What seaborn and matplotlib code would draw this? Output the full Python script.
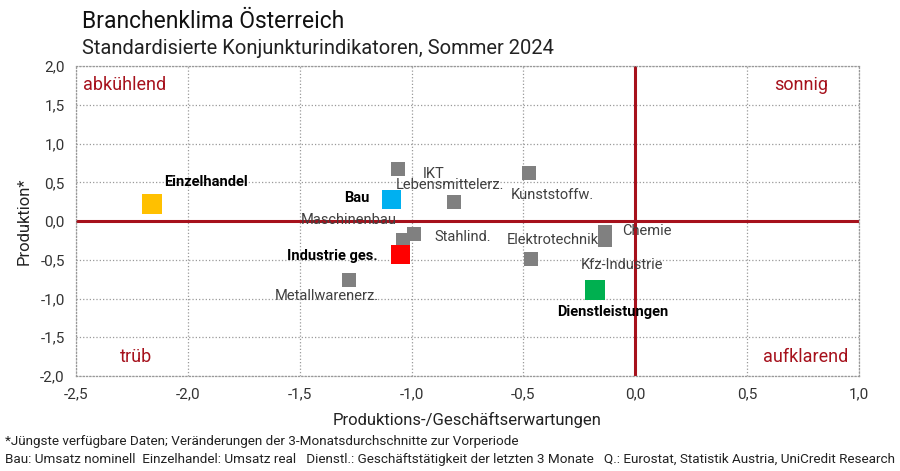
import matplotlib
matplotlib.use("Agg")
import matplotlib.pyplot as plt
import seaborn as sns
import pandas as pd

# sectors: name, x (expectations), y (production), group
names = ["Einzelhandel", "Bau", "Industrie ges.", "Dienstleistungen",
         "IKT", "Lebensmittelerz.", "Kunststoffw.", "Maschinenbau",
         "Stahlind.", "Chemie", "Kfz-Industrie", "Elektrotechnik",
         "Metallwarenerz."]
x_vals = [-2.16, -1.09, -1.05, -0.18,
          -1.06, -0.81, -0.475, -1.04,
          -0.99, -0.135, -0.135, -0.465,
          -1.28]
y_vals = [0.22, 0.28, -0.43, -0.89,
          0.67, 0.25, 0.62, -0.25,
          -0.17, -0.14, -0.25, -0.49,
          -0.76]
groups = ["Einzelhandel", "Bau", "Industrie", "Dienst"] + ["Branche"] * 9

# label positions (data coords) and styles
label_x = [-1.92, -1.19, -1.15, -0.10,
           -0.90, -0.83, -0.37, -1.28,
           -0.77, 0.05, -0.06, -0.37,
           -1.38]
label_y = [0.50, 0.30, -0.45, -1.17,
           0.61, 0.47, 0.34, 0.01,
           -0.21, -0.13, -0.57, -0.25,
           -0.97]
label_ha = ["center", "right", "right", "center"] + ["center"] * 9
label_bold = [True, True, True, True] + [False] * 9

x_ticks = [-2.5, -2.0, -1.5, -1.0, -0.5, 0.0, 0.5, 1.0]
y_ticks = [-2.0, -1.5, -1.0, -0.5, 0.0, 0.5, 1.0, 1.5, 2.0]

palette = {"Einzelhandel": "#FFC000", "Bau": "#00B0F0", "Industrie": "#FF0000",
           "Dienst": "#00B050", "Branche": "#808080"}
sizes = {"main": 190, "Branche": 105}

df = pd.DataFrame({"name": names, "x": x_vals, "y": y_vals, "group": groups})

sns.set_style("white")
plt.rcParams["font.family"] = ["Roboto", "DejaVu Sans"]

fig = plt.figure(figsize=(9, 4.71), dpi=100)
ax = fig.add_axes([0.0844, 0.2017, 0.87, 0.658])

darkred = "#A6111C"
ax.axhline(0, color=darkred, lw=2.2, zorder=1)
ax.axvline(0, color=darkred, lw=2.2, zorder=1)

branche = df[df["group"] == "Branche"]
main = df[df["group"] != "Branche"]
sns.scatterplot(data=branche, x="x", y="y", color=palette["Branche"], marker="s",
                s=sizes["Branche"], linewidth=0, ax=ax, zorder=3, legend=False)
sns.scatterplot(data=main, x="x", y="y", hue="group", palette=palette, marker="s",
                s=sizes["main"], linewidth=0, ax=ax, zorder=4, legend=False)

for i, n in enumerate(names):
    ax.text(label_x[i], label_y[i], n, ha=label_ha[i], va="center",
            fontsize=10.5, color="black" if label_bold[i] else "#404040",
            fontweight="bold" if label_bold[i] else "normal", zorder=5)

# quadrant labels
ax.text(-2.47, 1.75, "abkühlend", color=darkred, fontsize=13, ha="left", va="center")
ax.text(0.86, 1.75, "sonnig", color=darkred, fontsize=13, ha="right", va="center")
ax.text(-2.23, -1.76, "trüb", color=darkred, fontsize=13, ha="center", va="center")
ax.text(0.95, -1.76, "aufklarend", color=darkred, fontsize=13, ha="right", va="center")

ax.set_xlim(-2.5, 1.0)
ax.set_ylim(-2.0, 2.0)
ax.set_xticks(x_ticks)
ax.set_yticks(y_ticks)
ax.set_xticklabels([f"{t:.1f}".replace(".", ",") for t in x_ticks])
ax.set_yticklabels([f"{t:.1f}".replace(".", ",") for t in y_ticks])
ax.tick_params(axis="both", length=0, labelsize=11, colors="#333333", pad=8)
ax.grid(True, color="#999999", linestyle=":", linewidth=0.9)
for sp in ax.spines.values():
    sp.set_linestyle(":")
    sp.set_color("#999999")
    sp.set_linewidth(0.9)

ax.set_xlabel("Produktions-/Geschäftserwartungen", fontsize=12, color="#222222", labelpad=8)
ax.set_ylabel("Produktion*", fontsize=12, color="#222222", labelpad=6)

fig.text(0.091, 0.955, "Branchenklima Österreich", fontsize=16.5, color="#111111",
         ha="left", va="center")
fig.text(0.091, 0.898, "Standardisierte Konjunkturindikatoren, Sommer 2024", fontsize=14.5,
         color="#222222", ha="left", va="center")
fig.text(0.006, 0.063, "*Jüngste verfügbare Daten; Veränderungen der 3-Monatsdurchschnitte zur Vorperiode",
         fontsize=9.7, color="#222222", ha="left", va="center")
fig.text(0.006, 0.024, "Bau: Umsatz nominell  Einzelhandel: Umsatz real   Dienstl.: Geschäftstätigkeit der letzten 3 Monate   Q.: Eurostat, Statistik Austria, UniCredit Research",
         fontsize=9.7, color="#222222", ha="left", va="center")

fig.savefig("out.png", dpi=100)
